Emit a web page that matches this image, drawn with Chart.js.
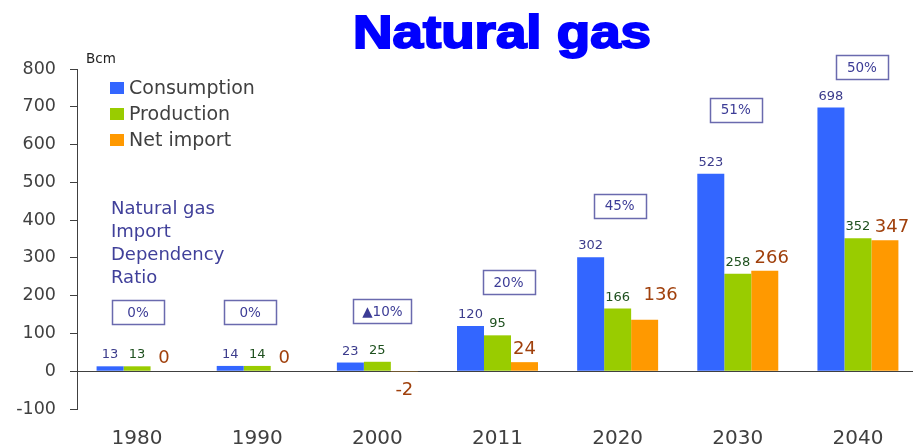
<!DOCTYPE html>
<html>
<head>
<meta charset="utf-8">
<title>Natural gas</title>
<script src="https://cdn.jsdelivr.net/npm/chart.js@4/dist/chart.umd.min.js"></script>
<style>
    html, body { margin: 0; padding: 0; background: #fff; overflow: hidden; }
    #wrap { width: 918px; height: 445px; }
</style>
</head>
<body>
<div id="wrap"><canvas id="gasChart" width="918" height="445"></canvas></div>
<script>
// Data (Bcm)
const years = ['1980', '1990', '2000', '2011', '2020', '2030', '2040'];
const consumption = [13, 14, 23, 120, 302, 523, 698];
const production = [13, 14, 25, 95, 166, 258, 352];
const netImport = [0, 0, -2, 24, 136, 266, 347];
const dependencyRatio = ['0%', '0%', '▲10%', '20%', '45%', '51%', '50%'];
const yMin = -100;
const yMax = 800;
const yStep = 100;

// Layout tweaks for the annotations: [x offset px, y value of box centre]
const ratioBoxAnchor = [[1, 156], [-7, 156], [5, 159], [11, 236], [2, 438], [-2, 692], [4, 804]];
const importLabelShift = [[0, 0], [0, 0], [0, 0], [0, 0], [16, -12], [7, 0], [7, 0]];

const FONT = '"DejaVu Sans", Verdana, sans-serif';
const colors = {
    consumption: '#3366FF',
    production: '#99CC00',
    netImport: '#FF9900',
    axis: '#404040'
};

// Value labels above / below bars
const valueLabels = {
    id: 'valueLabels',
    afterDatasetsDraw(chart) {
        const ctx = chart.ctx;
        ctx.save();
        ctx.textAlign = 'center';
        chart.data.datasets.forEach((ds, di) => {
            const meta = chart.getDatasetMeta(di);
            meta.data.forEach((bar, i) => {
                const v = ds.data[i];
                let x = bar.x;
                let dy = 0;
                if (di === 2) {
                    x += importLabelShift[i][0];
                    dy = importLabelShift[i][1];
                }
                ctx.font = di === 2 ? `18px ${FONT}` : `13px ${FONT}`;
                ctx.fillStyle = ds.labelColor;
                if (v < 0) {
                    ctx.textBaseline = 'top';
                    ctx.fillText(String(v), x, bar.y + 9 + dy);
                } else {
                    ctx.textBaseline = 'alphabetic';
                    ctx.fillText(String(v), x, bar.y - 8 + dy);
                }
            });
        });
        ctx.restore();
    }
};

// Title, legend, unit and ratio boxes
const decorations = {
    id: 'decorations',
    afterDraw(chart) {
        const ctx = chart.ctx;
        const xs = chart.scales.x;
        const ys = chart.scales.y;
        ctx.save();

        // Title
        ctx.font = `bold 47px "Liberation Sans", Arial, sans-serif`;
        ctx.fillStyle = '#0000FF';
        ctx.strokeStyle = '#0000FF';
        ctx.lineWidth = 2;
        ctx.textBaseline = 'alphabetic';
        ctx.textAlign = 'left';
        const tw = ctx.measureText('Natural gas').width;
        const sx = 298 / tw;
        ctx.save();
        ctx.translate(353, 48);
        ctx.scale(sx, 1);
        ctx.fillText('Natural gas', 0, 0);
        ctx.strokeText('Natural gas', 0, 0);
        ctx.restore();

        // Unit
        ctx.font = `13.5px ${FONT}`;
        ctx.fillStyle = '#222';
        ctx.fillText('Bcm', 86, 63);

        // Legend
        const items = [
            ['Consumption', colors.consumption],
            ['Production', colors.production],
            ['Net import', colors.netImport]
        ];
        ctx.font = `19px ${FONT}`;
        items.forEach(([label, color], k) => {
            const base = 94 + k * 26;
            ctx.fillStyle = color;
            ctx.fillRect(110, base - 12, 14, 12);
            ctx.fillStyle = '#404040';
            ctx.fillText(label, 129, base);
        });

        // Side note
        ctx.font = `18px ${FONT}`;
        ctx.fillStyle = '#40409A';
        ['Natural gas', 'Import', 'Dependency', 'Ratio'].forEach((line, k) => {
            ctx.fillText(line, 111, 214 + k * 23);
        });

        // Ratio boxes
        ctx.font = `13.5px ${FONT}`;
        ctx.textAlign = 'center';
        ctx.textBaseline = 'middle';
        dependencyRatio.forEach((txt, i) => {
            const cx = xs.getPixelForValue(i) + ratioBoxAnchor[i][0];
            const cy = ys.getPixelForValue(ratioBoxAnchor[i][1]);
            const w = Math.max(52, ctx.measureText(txt).width + 18);
            const h = 24;
            ctx.strokeStyle = '#6A6AAE';
            ctx.lineWidth = 1.5;
            ctx.strokeRect(Math.round(cx - w / 2) + 0.5, Math.round(cy - h / 2) + 0.5, Math.round(w), h);
            ctx.fillStyle = '#3C3C96';
            ctx.fillText(txt, cx, cy + 1);
        });

        ctx.restore();
    }
};

const chart = new Chart(document.getElementById('gasChart').getContext('2d'), {
    type: 'bar',
    data: {
        labels: years,
        datasets: [{
            label: 'Consumption',
            data: consumption,
            backgroundColor: colors.consumption,
            labelColor: '#3C3C8C'
        }, {
            label: 'Production',
            data: production,
            backgroundColor: colors.production,
            labelColor: '#1E501E'
        }, {
            label: 'Net import',
            data: netImport,
            backgroundColor: colors.netImport,
            labelColor: '#A0400C'
        }]
    },
    options: {
        responsive: false,
        animation: false,
        devicePixelRatio: 1,
        layout: { padding: { top: 69, left: 0, right: 0, bottom: 0 } },
        datasets: {
            bar: { categoryPercentage: 0.674, barPercentage: 1.0, borderWidth: 0 }
        },
        plugins: {
            legend: { display: false },
            title: { display: false },
            tooltip: { enabled: false }
        },
        scales: {
            x: {
                grid: { display: false },
                border: { display: false },
                ticks: {
                    color: colors.axis,
                    font: { family: FONT, size: 20 },
                    padding: 10,
                    maxRotation: 0
                },
                afterFit(scale) { scale.height = 36; }
            },
            y: {
                min: yMin,
                max: yMax,
                ticks: {
                    stepSize: yStep,
                    color: colors.axis,
                    font: { family: FONT, size: 17.5 },
                    padding: 14
                },
                grid: {
                    color: ctx => ctx.tick && ctx.tick.value === 0 ? '#404040' : 'rgba(0,0,0,0)',
                    tickColor: colors.axis,
                    tickLength: 7,
                    lineWidth: 1
                },
                border: { color: colors.axis, width: 1 },
                afterFit(scale) { scale.width = 77; }
            }
        }
    },
    plugins: [valueLabels, decorations]
});
</script>
</body>
</html>
